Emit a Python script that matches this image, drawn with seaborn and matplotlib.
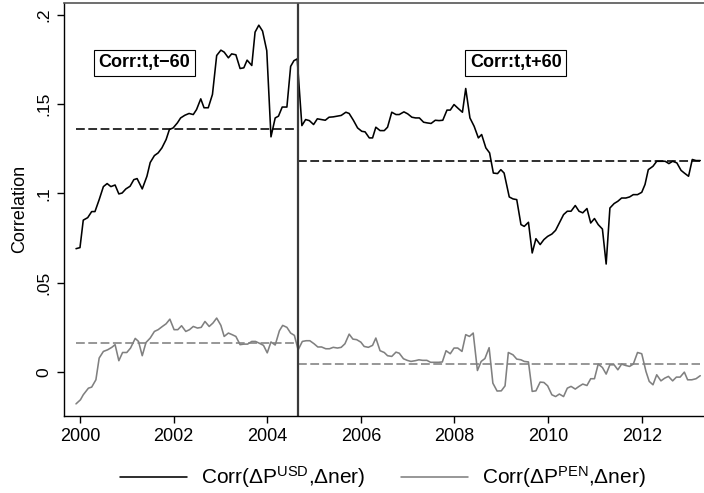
import numpy as np
import pandas as pd
import matplotlib
matplotlib.use("Agg")
import matplotlib.pyplot as plt
import seaborn as sns
from matplotlib.lines import Line2D

# ---------------- data ----------------
usd_year = [1999.915, 2000.00, 2000.07, 2000.165, 2000.25, 2000.32, 2000.41, 2000.50, 2000.58, 2000.66,
            2000.75, 2000.83, 2000.90, 2000.98, 2001.07, 2001.15, 2001.22, 2001.33, 2001.43, 2001.50,
            2001.59, 2001.67, 2001.75, 2001.84, 2001.91, 2001.99, 2002.08, 2002.15, 2002.24, 2002.33,
            2002.42, 2002.49, 2002.58, 2002.65, 2002.74, 2002.83, 2002.92, 2003.01, 2003.08, 2003.17,
            2003.24, 2003.33, 2003.42, 2003.50, 2003.57, 2003.67, 2003.74, 2003.82, 2003.90, 2003.99,
            2004.08, 2004.17, 2004.24, 2004.32, 2004.42, 2004.50, 2004.57, 2004.64, 2004.74, 2004.82,
            2004.90, 2004.99, 2005.07, 2005.15, 2005.24, 2005.32, 2005.41, 2005.50, 2005.58, 2005.68,
            2005.75, 2005.84, 2005.93, 2006.02, 2006.09, 2006.18, 2006.25, 2006.32, 2006.41, 2006.50,
            2006.57, 2006.66, 2006.75, 2006.82, 2006.92, 2007.00, 2007.09, 2007.17, 2007.25, 2007.34,
            2007.42, 2007.50, 2007.59, 2007.67, 2007.75, 2007.84, 2007.91, 2007.99, 2008.08, 2008.17,
            2008.24, 2008.33, 2008.42, 2008.51, 2008.58, 2008.67, 2008.75, 2008.83, 2008.92, 2008.99,
            2009.06, 2009.17, 2009.25, 2009.33, 2009.42, 2009.49, 2009.58, 2009.66, 2009.74, 2009.83,
            2009.91, 2009.99, 2010.08, 2010.16, 2010.24, 2010.33, 2010.41, 2010.49, 2010.58, 2010.66,
            2010.74, 2010.83, 2010.91, 2010.99, 2011.07, 2011.16, 2011.24, 2011.32, 2011.41, 2011.49,
            2011.57, 2011.66, 2011.74, 2011.82, 2011.91, 2012.00, 2012.07, 2012.14, 2012.24, 2012.32,
            2012.41, 2012.50, 2012.58, 2012.66, 2012.75, 2012.84, 2012.91, 2013.00, 2013.08, 2013.16,
            2013.25]
usd_corr = [0.0690, 0.0696, 0.0850, 0.0864, 0.0898, 0.0898, 0.0965, 0.1038, 0.1055, 0.1038,
            0.1047, 0.0997, 0.1002, 0.1025, 0.1040, 0.1077, 0.1083, 0.1025, 0.1096, 0.1173,
            0.1212, 0.1227, 0.1255, 0.1302, 0.1358, 0.1367, 0.1395, 0.1423, 0.1438, 0.1448,
            0.1442, 0.1470, 0.1530, 0.1480, 0.1480, 0.1555, 0.1773, 0.1803, 0.1792, 0.1760,
            0.1782, 0.1777, 0.1700, 0.1704, 0.1747, 0.1717, 0.1904, 0.1943, 0.1910, 0.1800,
            0.1317, 0.1423, 0.1433, 0.1484, 0.1484, 0.1712, 0.1744, 0.1754, 0.1380, 0.1414,
            0.1408, 0.1386, 0.1418, 0.1414, 0.1410, 0.1427, 0.1429, 0.1433, 0.1437, 0.1455,
            0.1448, 0.1410, 0.1367, 0.1348, 0.1345, 0.1311, 0.1311, 0.1371, 0.1352, 0.1352,
            0.1371, 0.1455, 0.1442, 0.1442, 0.1457, 0.1446, 0.1427, 0.1423, 0.1423, 0.1399,
            0.1395, 0.1392, 0.1410, 0.1408, 0.1410, 0.1467, 0.1467, 0.1498, 0.1476, 0.1455,
            0.1588, 0.1423, 0.1376, 0.1311, 0.1330, 0.1255, 0.1227, 0.1114, 0.1111, 0.1133,
            0.1114, 0.0980, 0.0969, 0.0965, 0.0825, 0.0815, 0.0838, 0.0666, 0.0746, 0.0713,
            0.0741, 0.0759, 0.0772, 0.0793, 0.0834, 0.0881, 0.0900, 0.0900, 0.0932, 0.0900,
            0.0891, 0.0915, 0.0834, 0.0859, 0.0825, 0.0800, 0.0604, 0.0918, 0.0943, 0.0956,
            0.0974, 0.0974, 0.0980, 0.0993, 0.0993, 0.1006, 0.1050, 0.1133, 0.1152, 0.1180,
            0.1180, 0.1180, 0.1167, 0.1180, 0.1171, 0.1129, 0.1114, 0.1096, 0.1190, 0.1184,
            0.1184]

pen_year = [1999.915, 2000.01, 2000.07, 2000.18, 2000.25, 2000.34, 2000.41, 2000.50, 2000.59, 2000.68,
            2000.75, 2000.83, 2000.91, 2001.00, 2001.08, 2001.18, 2001.25, 2001.33, 2001.41, 2001.50,
            2001.59, 2001.67, 2001.76, 2001.84, 2001.92, 2002.01, 2002.09, 2002.17, 2002.26, 2002.34,
            2002.42, 2002.51, 2002.59, 2002.67, 2002.76, 2002.84, 2002.92, 2003.01, 2003.08, 2003.17,
            2003.25, 2003.33, 2003.42, 2003.50, 2003.58, 2003.67, 2003.75, 2003.83, 2003.92, 2004.00,
            2004.08, 2004.17, 2004.26, 2004.33, 2004.42, 2004.50, 2004.58, 2004.66, 2004.75, 2004.83,
            2004.91, 2005.00, 2005.08, 2005.16, 2005.25, 2005.33, 2005.41, 2005.50, 2005.58, 2005.66,
            2005.75, 2005.83, 2005.91, 2006.00, 2006.07, 2006.16, 2006.25, 2006.32, 2006.41, 2006.50,
            2006.57, 2006.66, 2006.75, 2006.82, 2006.91, 2006.99, 2007.07, 2007.16, 2007.24, 2007.32,
            2007.41, 2007.49, 2007.57, 2007.66, 2007.74, 2007.82, 2007.91, 2007.99, 2008.07, 2008.16,
            2008.24, 2008.32, 2008.40, 2008.49, 2008.57, 2008.65, 2008.74, 2008.82, 2008.91, 2009.00,
            2009.08, 2009.15, 2009.25, 2009.33, 2009.42, 2009.49, 2009.58, 2009.66, 2009.74, 2009.83,
            2009.91, 2009.99, 2010.08, 2010.16, 2010.24, 2010.33, 2010.41, 2010.49, 2010.58, 2010.66,
            2010.74, 2010.83, 2010.91, 2010.99, 2011.07, 2011.16, 2011.24, 2011.32, 2011.41, 2011.49,
            2011.57, 2011.66, 2011.74, 2011.82, 2011.91, 2012.00, 2012.09, 2012.16, 2012.24, 2012.32,
            2012.41, 2012.49, 2012.57, 2012.66, 2012.74, 2012.82, 2012.91, 2012.98, 2013.07, 2013.16,
            2013.25]
pen_corr = [-0.0180, -0.0157, -0.0129, -0.0092, -0.0086, -0.0045, 0.0077, 0.0114, 0.0123, 0.0137,
            0.0152, 0.0062, 0.0108, 0.0108, 0.0133, 0.0187, 0.0170, 0.0090, 0.0164, 0.0189,
            0.0226, 0.0236, 0.0254, 0.0269, 0.0295, 0.0236, 0.0236, 0.0258, 0.0226, 0.0236,
            0.0254, 0.0245, 0.0249, 0.0282, 0.0254, 0.0273, 0.0301, 0.0260, 0.0198, 0.0217,
            0.0208, 0.0198, 0.0152, 0.0155, 0.0155, 0.0170, 0.0170, 0.0160, 0.0148, 0.0106,
            0.0167, 0.0150, 0.0230, 0.0260, 0.0249, 0.0217, 0.0204, 0.0123, 0.0170, 0.0174,
            0.0174, 0.0157, 0.0139, 0.0139, 0.0129, 0.0129, 0.0137, 0.0133, 0.0137, 0.0157,
            0.0211, 0.0183, 0.0180, 0.0166, 0.0142, 0.0137, 0.0148, 0.0189, 0.0118, 0.0108,
            0.0090, 0.0086, 0.0110, 0.0104, 0.0073, 0.0064, 0.0058, 0.0062, 0.0067, 0.0064,
            0.0064, 0.0053, 0.0053, 0.0053, 0.0055, 0.0118, 0.0101, 0.0133, 0.0133, 0.0114,
            0.0208, 0.0198, 0.0217, 0.0007, 0.0058, 0.0074, 0.0135, -0.0064, -0.0108, -0.0107,
            -0.0079, 0.0108, 0.0095, 0.0071, 0.0067, 0.0058, 0.0055, -0.0110, -0.0107, -0.0058,
            -0.0060, -0.0079, -0.0129, -0.0139, -0.0125, -0.0139, -0.0092, -0.0082, -0.0097, -0.0082,
            -0.0069, -0.0077, -0.0039, -0.0039, 0.0043, 0.0024, -0.0013, 0.0039, 0.0039, 0.0011,
            0.0043, 0.0035, 0.0030, 0.0043, 0.0108, 0.0101, 0.0002, -0.0054, -0.0073, -0.0017,
            -0.0051, -0.0036, -0.0026, -0.0051, -0.0030, -0.0030, -0.0002, -0.0045, -0.0045, -0.0039,
            -0.0022]

break_year = 2004.66
period_start = 1999.915
period_end = 2013.25
usd_means = [0.1362, 0.1180]   # before / after break
pen_means = [0.0161, 0.0045]
box_labels = ["Corr:t,t\u221260", "Corr:t,t+60"]
box_years = [2001.38, 2009.31]
box_level = 0.1731

x_ticks = [2000, 2002, 2004, 2006, 2008, 2010, 2012]
y_ticks = [0, 0.05, 0.10, 0.15, 0.20]
y_ticklabels = ["0", ".05", ".1", ".15", ".2"]
legend_labels = ["Corr(\u0394P$^{\\mathrm{USD}}$,\u0394ner)",
                 "Corr(\u0394P$^{\\mathrm{PEN}}$,\u0394ner)"]

# ---------------- style ----------------
sns.set_theme(style="white")
plt.rcParams['font.family'] = ['Liberation Sans', 'DejaVu Sans']
plt.rcParams['mathtext.fontset'] = 'custom'
plt.rcParams['mathtext.rm'] = 'Liberation Sans'
plt.rcParams['mathtext.it'] = 'Liberation Sans:italic'
plt.rcParams['mathtext.bf'] = 'Liberation Sans:bold'
plt.rcParams['text.color'] = 'black'
plt.rcParams['axes.labelcolor'] = 'black'
plt.rcParams['xtick.color'] = 'black'
plt.rcParams['ytick.color'] = 'black'

BLACK = "#000000"
GRAY = "#808080"

df_usd = pd.DataFrame({"year": usd_year, "corr": usd_corr})
df_pen = pd.DataFrame({"year": pen_year, "corr": pen_corr})

fig = plt.figure(figsize=(7.04, 4.93), dpi=100)
ax = fig.add_axes([64.3 / 704, 1 - 416 / 493, 1 - 64.3 / 704, (416 - 2.7) / 493])

sns.lineplot(data=df_usd, x="year", y="corr", ax=ax, color=BLACK, lw=1.15, legend=False)
sns.lineplot(data=df_pen, x="year", y="corr", ax=ax, color=GRAY, lw=1.15, legend=False)

# period means (dashed)
dash = (0, (5.5, 2.2))
ax.plot([period_start, break_year], [usd_means[0]] * 2, color=BLACK, lw=1.15, ls=dash)
ax.plot([break_year, period_end], [usd_means[1]] * 2, color=BLACK, lw=1.15, ls=dash)
ax.plot([period_start, break_year], [pen_means[0]] * 2, color=GRAY, lw=1.15, ls=dash)
ax.plot([break_year, period_end], [pen_means[1]] * 2, color=GRAY, lw=1.15, ls=dash)

ax.axvline(break_year, color="#3a3a3a", lw=1.6)

for lab, yr in zip(box_labels, box_years):
    ax.text(yr, box_level, lab, ha="center", va="center", fontsize=13, fontweight="bold",
            bbox=dict(boxstyle="square,pad=0.25", fc="white", ec="black", lw=0.8))

ax.set_xlim(1999.665, 2013.33)
ax.set_ylim(-0.0248, 0.2069)
ax.set_xticks(x_ticks)
ax.set_xticklabels([str(t) for t in x_ticks], fontsize=13)
ax.set_yticks(y_ticks)
ax.set_yticklabels(y_ticklabels, fontsize=12.5, rotation=90, va="center")
ax.set_xlabel("")
ax.set_ylabel("Correlation", fontsize=13, labelpad=6)
ax.tick_params(axis="both", direction="out", length=5, width=1, color="black",
               bottom=True, left=True, labelcolor="black")
ax.tick_params(axis="x", pad=3.5)
ax.tick_params(axis="y", pad=4.5)

for s in ["left", "bottom"]:
    ax.spines[s].set_color("black")
    ax.spines[s].set_linewidth(1.0)
ax.spines["top"].set_color("#555555")
ax.spines["top"].set_linewidth(1.2)
ax.spines["right"].set_visible(False)

handles = [Line2D([], [], color=BLACK, lw=1.15), Line2D([], [], color=GRAY, lw=1.15)]
fig.legend(handles, legend_labels, loc="center", bbox_to_anchor=(0.544, 0.032), ncol=2,
           frameon=False, fontsize=15, handlelength=3.2, columnspacing=1.7, handletextpad=0.7,
           borderpad=0.1)

fig.savefig("out.png", dpi=100)
